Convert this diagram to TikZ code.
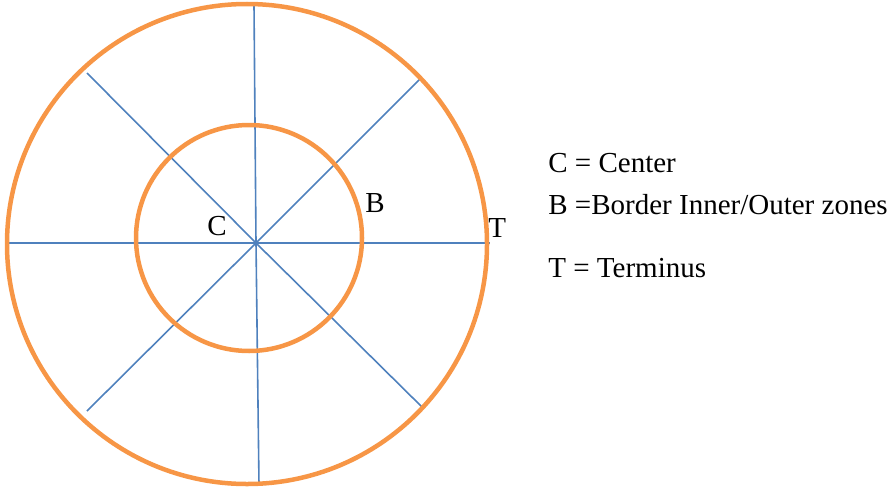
\documentclass[tikz,border=0pt]{standalone}
\usepackage{fontspec}
\setmainfont{Liberation Serif}
\definecolor{ringorange}{HTML}{F79646}
\definecolor{spokeblue}{HTML}{4F81BD}
\tikzset{every picture/.style={line width=0.75pt}}

\begin{document}
\begin{tikzpicture}[x=1pt,y=-1pt,
    ring/.style={draw=ringorange, line width=4.5pt},
    spoke/.style={draw=spokeblue, line width=1.6pt},
    lbl/.style={inner sep=0pt, anchor=base west, font=\fontsize{29}{34}\selectfont}]
    \useasboundingbox (0,0) rectangle (890,487);
    % spokes
    \coordinate (ctr) at (256,243);
    \coordinate (west) at (7,243);
    \coordinate (east) at (490,243);
    \coordinate (north) at (254,5);
    \coordinate (south) at (259,485);
    \coordinate (nw) at (87,73);
    \coordinate (se) at (423,408);
    \coordinate (ne) at (421,78);
    \coordinate (sw) at (87,411);
    \draw[spoke] (west) -- (ctr) -- (east);
    \draw[spoke] (north) -- (ctr) -- (south);
    \draw[spoke] (nw) -- (ctr) -- (se);
    \draw[spoke] (ne) -- (ctr) -- (sw);
    % zones
    \draw[ring] (247,244) circle (240pt);
    \draw[ring] (249,238) circle (113pt);
    % marks
    \node[lbl] (cmark) at (207,235) {C};
    \node[lbl] (bmark) at (365,212) {B};
    \node[lbl] (tmark) at (488,237) {T};
    % key
    \node[lbl] (keyc) at (548,172) {C = Center};
    \node[lbl] (keyb) at (548,214) {B =Border Inner/Outer zones};
    \node[lbl] (keyt) at (548,277) {T = Terminus};
\end{tikzpicture}
\end{document}
